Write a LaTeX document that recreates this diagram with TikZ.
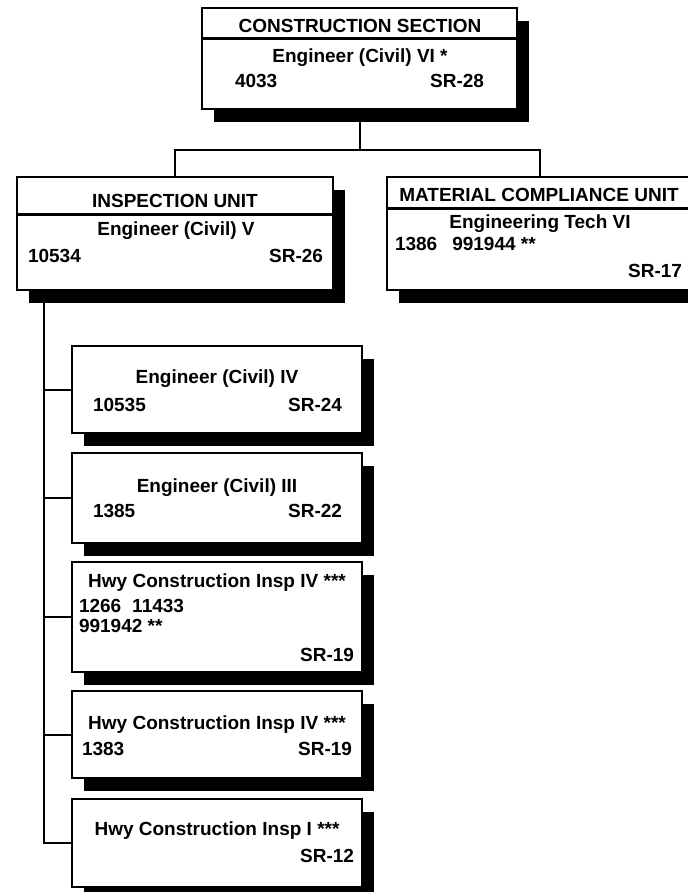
\documentclass[tikz,border=0pt]{standalone}
\usepackage{fontspec}
\setmainfont{Liberation Sans}
\usetikzlibrary{shadows}
\begin{document}
\begin{tikzpicture}[x=1pt,y=-1pt,
  box/.style={draw=black, line width=2pt, fill=white, rectangle, inner sep=0pt, outer sep=0pt,
    drop shadow={shadow xshift=12pt, shadow yshift=-13pt, opacity=1, fill=black}},
  txt/.style={inner sep=0pt, outer sep=0pt, font=\fontsize{19}{22}\selectfont\bfseries},
  hdr/.style={line width=3pt},
  conn/.style={line width=2pt}]
\useasboundingbox (0,0) rectangle (688,892);

% boxes
\node[box, minimum width=315pt, minimum height=101pt] (top) at (359.5,58.5) {};
\node[box, minimum width=316pt, minimum height=113pt] (insp) at (175,233.5) {};
\node[box, minimum width=306pt, minimum height=113pt] (mat) at (540,233.5) {};
\node[box, minimum width=290pt, minimum height=87pt] (b1) at (217,389.5) {};
\node[box, minimum width=290pt, minimum height=90pt] (b2) at (217,498) {};
\node[box, minimum width=290pt, minimum height=110pt] (b3) at (217,617) {};
\node[box, minimum width=290pt, minimum height=87pt] (b4) at (217,734.5) {};
\node[box, minimum width=290pt, minimum height=88pt] (b5) at (217,843) {};

% header lines
\draw[hdr] (top.west |- 0,38) -- (top.east |- 0,38);
\draw[hdr] (insp.west |- 0,214) -- (insp.east |- 0,214);
\draw[hdr] (mat.west |- 0,208) -- (mat.east |- 0,208);

% connectors
\coordinate (bus) at (359.5,150);
\coordinate (spine) at (44,300);
\draw[conn] (top.south) -- (bus);
\draw[conn] (insp.north) |- (bus) -| (mat.north);
\draw[conn] (spine) |- (b5.west);
\draw[conn] (b1.west) -- (b1.west -| spine);
\draw[conn] (b2.west) -- (b2.west -| spine);
\draw[conn] (b3.west) -- (b3.west -| spine);
\draw[conn] (b4.west) -- (b4.west -| spine);

% texts: top
\node[txt, anchor=base] (t1) at (360,32) {CONSTRUCTION SECTION};
\node[txt, anchor=base] (t2) at (360,62) {Engineer (Civil) VI *};
\node[txt, anchor=base west] (t3) at (235,87) {4033};
\node[txt, anchor=base east] (t4) at (484,87) {SR-28};

% inspection unit
\node[txt, anchor=base] (i1) at (175,207) {INSPECTION UNIT};
\node[txt, anchor=base] (i2) at (176,235) {Engineer (Civil) V};
\node[txt, anchor=base west] (i3) at (28,262) {10534};
\node[txt, anchor=base east] (i4) at (323,262) {SR-26};

% material compliance unit
\node[txt, anchor=base] (m1) at (539,201) {MATERIAL COMPLIANCE UNIT};
\node[txt, anchor=base] (m2) at (540,228) {Engineering Tech VI};
\node[txt, anchor=base west] (m3) at (395,250) {1386\hspace{15pt}991944 **};
\node[txt, anchor=base east] (m4) at (682,277) {SR-17};

% b1
\node[txt, anchor=base] (a1) at (217,383) {Engineer (Civil) IV};
\node[txt, anchor=base west] (a2) at (93,411) {10535};
\node[txt, anchor=base east] (a3) at (342,411) {SR-24};

% b2
\node[txt, anchor=base] (c1) at (217,492) {Engineer (Civil) III};
\node[txt, anchor=base west] (c2) at (93,517) {1385};
\node[txt, anchor=base east] (c3) at (342,517) {SR-22};

% b3
\node[txt, anchor=base] (d1) at (217,587) {Hwy Construction Insp IV ***};
\node[txt, anchor=base west] (d2) at (79,612) {1266\hspace{11pt}11433};
\node[txt, anchor=base west] (d3) at (79,632) {991942 **};
\node[txt, anchor=base east] (d4) at (354,661) {SR-19};

% b4
\node[txt, anchor=base] (e1) at (217,729) {Hwy Construction Insp IV ***};
\node[txt, anchor=base west] (e2) at (82,755) {1383};
\node[txt, anchor=base east] (e3) at (352,755) {SR-19};

% b5
\node[txt, anchor=base] (f1) at (217,835) {Hwy Construction Insp I ***};
\node[txt, anchor=base east] (f2) at (354,862) {SR-12};
\end{tikzpicture}
\end{document}
